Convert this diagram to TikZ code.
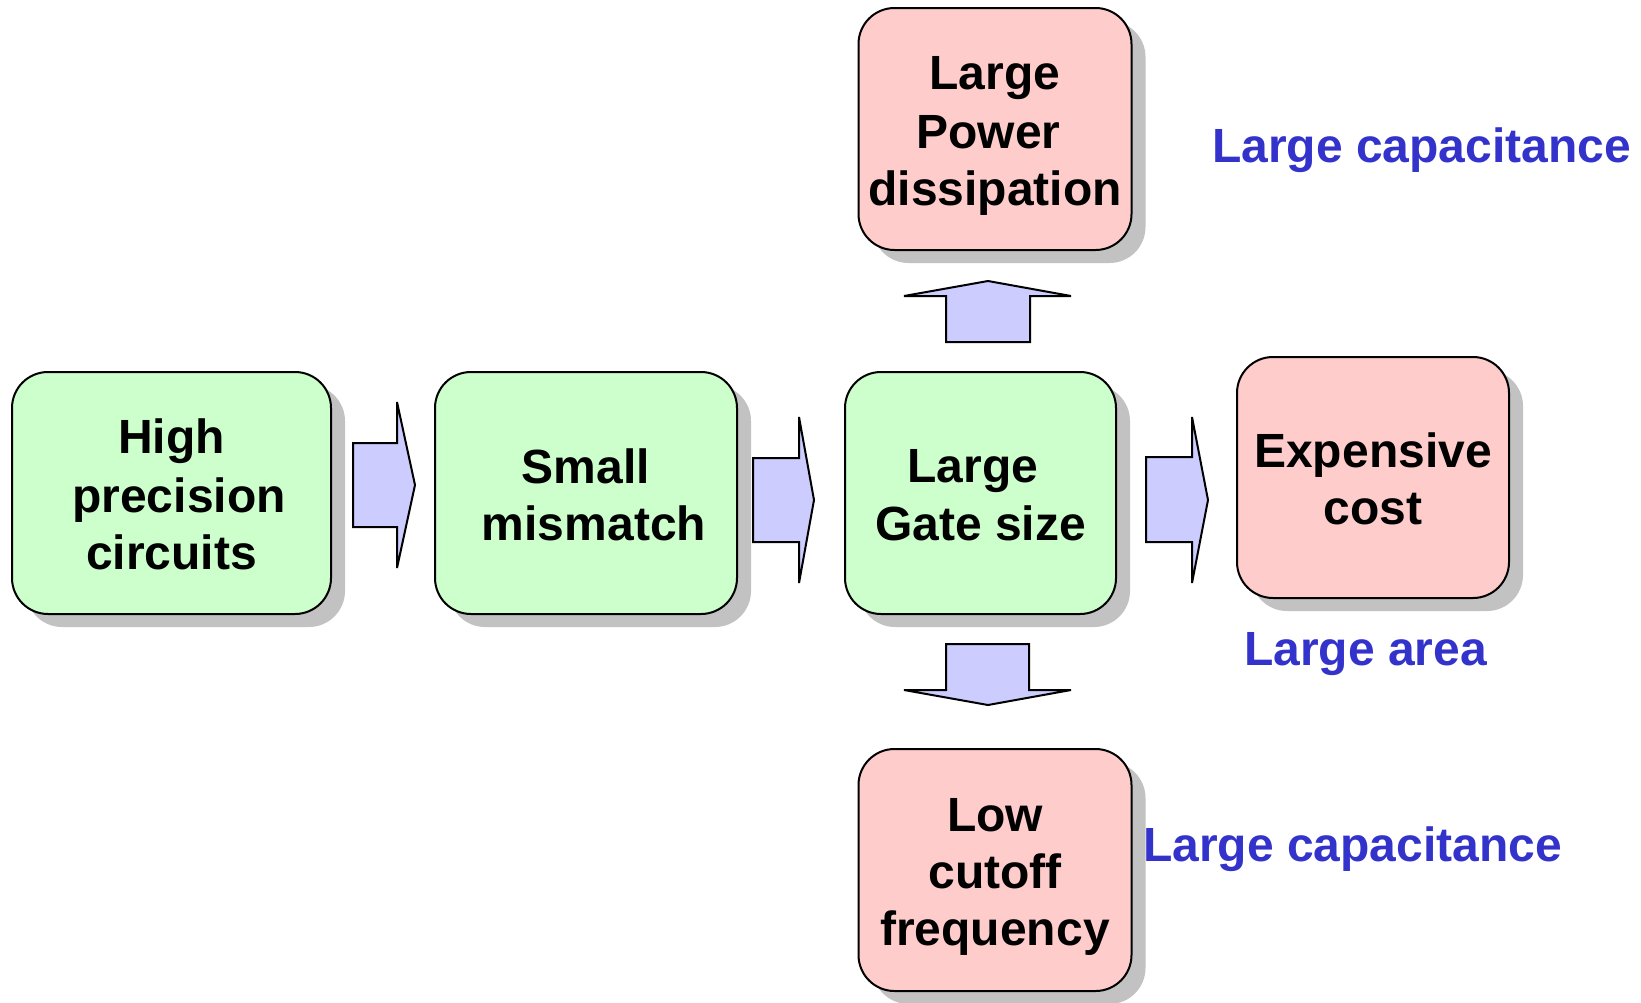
\documentclass[tikz,border=0pt]{standalone}
\usepackage{fontspec}
\setmainfont{Liberation Sans}
\usetikzlibrary{shadows}
\definecolor{boxgreen}{RGB}{204,255,204}
\definecolor{boxpink}{RGB}{255,204,204}
\definecolor{arrowfill}{RGB}{204,204,255}
\definecolor{labelblue}{RGB}{51,51,204}
\newcommand{\lst}{\rule[-10pt]{0pt}{57pt}}
\newcommand{\gap}[1]{\kern#1pt\relax}
\tikzset{
  box/.style={draw=black, line width=2pt, rounded corners=36pt, inner sep=0pt,
    align=center, font=\fontsize{48}{57}\selectfont\bfseries,
    drop shadow={shadow xshift=14pt, shadow yshift=-13pt, fill=black!24, opacity=1}},
  greenbox/.style={box, fill=boxgreen},
  pinkbox/.style={box, fill=boxpink},
  blockarrow/.style={draw=black, line width=2pt, fill=arrowfill, line join=miter, miter limit=3},
  bluelabel/.style={text=labelblue, inner sep=0pt, anchor=base west,
    font=\fontsize{48}{57}\selectfont\bfseries}
}
\begin{document}
\begin{tikzpicture}[x=1pt, y=-1pt]
\useasboundingbox (0,0) rectangle (1641,1002);
% boxes
\node[greenbox, minimum width=319pt, minimum height=242pt] (hp) at (171.5,493)
  {\lst High\\\lst \gap{15}precision\\\lst circuits};
\node[greenbox, minimum width=302pt, minimum height=242pt] (sm) at (586,493)
  {\lst Small\\\lst \gap{16}mismatch};
\node[greenbox, minimum width=271pt, minimum height=242pt] (lg) at (980.5,493)
  {\lst Large\gap{15}\\\lst Gate size};
\node[pinkbox, minimum width=272pt, minimum height=241pt] (ec) at (1373,477.5)
  {\lst Expensive\\\lst cost};
\node[pinkbox, minimum width=273pt, minimum height=242pt] (pd) at (995,129)
  {\lst Large\\\lst Power\gap{13}\\\lst dissipation};
\node[pinkbox, minimum width=273pt, minimum height=242pt] (lc) at (995,870)
  {\lst Low\\\lst cutoff\\\lst frequency};
% block arrows
\draw[blockarrow] (353,443) -- (397,443) -- (397,402) -- (415,485) -- (397,568) -- (397,527) -- (353,527) -- cycle;
\draw[blockarrow] (753,458) -- (799,458) -- (799,417) -- (814,500) -- (799,583) -- (799,542) -- (753,542) -- cycle;
\draw[blockarrow] (1146,457) -- (1192,457) -- (1192,417) -- (1208,500) -- (1192,583) -- (1192,542) -- (1146,542) -- cycle;
\draw[blockarrow] (946,342) -- (946,296) -- (904,296) -- (988,281) -- (1071,296) -- (1030,296) -- (1030,342) -- cycle;
\draw[blockarrow] (946,644) -- (1029,644) -- (1029,690) -- (1071,690) -- (988,705) -- (904,690) -- (946,690) -- cycle;
% labels
\node[bluelabel] (cap1) at (1212,162) {Large capacitance};
\node[bluelabel] (area) at (1244,665) {Large area};
\node[bluelabel] (cap2) at (1143,861) {Large capacitance};
\end{tikzpicture}
\end{document}
